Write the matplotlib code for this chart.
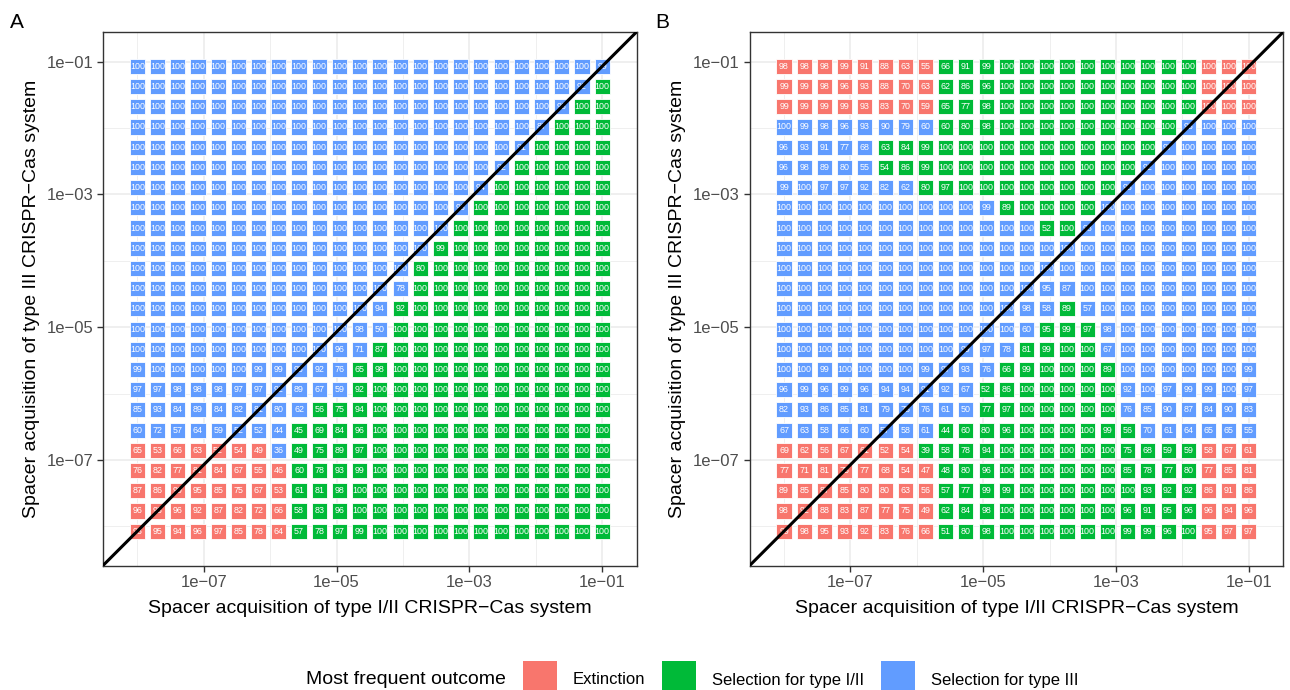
import matplotlib
matplotlib.use("Agg")
import matplotlib.pyplot as plt
from matplotlib.patches import Rectangle
from matplotlib.ticker import FixedLocator, NullFormatter

plt.rcParams['font.family'] = ['Liberation Sans', 'DejaVu Sans']

# spacer acquisition rates (log10) of type I/II (x) and type III (y)
X_RATE_EXPONENTS = [-8.000, -7.696, -7.391, -7.087, -6.783, -6.478, -6.174, -5.870,
                    -5.565, -5.261, -4.957, -4.652, -4.348, -4.043, -3.739, -3.435,
                    -3.130, -2.826, -2.522, -2.217, -1.913, -1.609, -1.304, -1.000]
# listed from top row to bottom row
Y_RATE_EXPONENTS = [-1.072, -1.376, -1.681, -1.985, -2.289, -2.594, -2.898, -3.202,
                    -3.507, -3.811, -4.115, -4.420, -4.724, -5.029, -5.333, -5.637,
                    -5.942, -6.246, -6.550, -6.855, -7.159, -7.463, -7.768, -8.072]

# outcome codes: E = extinction, G = selection for type I/II, B = selection for type III
OUTCOME_NAMES = {'E': 'Extinction', 'G': 'Selection for type I/II', 'B': 'Selection for type III'}
OUTCOME_COLORS = {'E': '#F8766D', 'G': '#00BA38', 'B': '#619CFF'}

A_VALUES = [
    [100, 100, 100, 100, 100, 100, 100, 100, 100, 100, 100, 100, 100, 100, 100, 100, 100, 100, 100, 100, 100, 100, 100, 99],
    [100, 100, 100, 100, 100, 100, 100, 100, 100, 100, 100, 100, 100, 100, 100, 100, 100, 100, 100, 100, 100, 100, 92, 100],
    [100, 100, 100, 100, 100, 100, 100, 100, 100, 100, 100, 100, 100, 100, 100, 100, 100, 100, 100, 100, 100, 93, 100, 100],
    [100, 100, 100, 100, 100, 100, 100, 100, 100, 100, 100, 100, 100, 100, 100, 100, 100, 100, 100, 100, 87, 100, 100, 100],
    [100, 100, 100, 100, 100, 100, 100, 100, 100, 100, 100, 100, 100, 100, 100, 100, 100, 100, 100, 91, 100, 100, 100, 100],
    [100, 100, 100, 100, 100, 100, 100, 100, 100, 100, 100, 100, 100, 100, 100, 100, 100, 100, 92, 100, 100, 100, 100, 100],
    [100, 100, 100, 100, 100, 100, 100, 100, 100, 100, 100, 100, 100, 100, 100, 100, 100, 94, 100, 100, 100, 100, 100, 100],
    [100, 100, 100, 100, 100, 100, 100, 100, 100, 100, 100, 100, 100, 100, 100, 100, 96, 100, 100, 100, 100, 100, 100, 100],
    [100, 100, 100, 100, 100, 100, 100, 100, 100, 100, 100, 100, 100, 100, 100, 100, 100, 100, 100, 100, 100, 100, 100, 100],
    [100, 100, 100, 100, 100, 100, 100, 100, 100, 100, 100, 100, 100, 100, 100, 99, 100, 100, 100, 100, 100, 100, 100, 100],
    [100, 100, 100, 100, 100, 100, 100, 100, 100, 100, 100, 100, 100, 100, 80, 100, 100, 100, 100, 100, 100, 100, 100, 100],
    [100, 100, 100, 100, 100, 100, 100, 100, 100, 100, 100, 100, 100, 78, 100, 100, 100, 100, 100, 100, 100, 100, 100, 100],
    [100, 100, 100, 100, 100, 100, 100, 100, 100, 100, 100, 100, 94, 92, 100, 100, 100, 100, 100, 100, 100, 100, 100, 100],
    [100, 100, 100, 100, 100, 100, 100, 100, 100, 100, 100, 98, 50, 100, 100, 100, 100, 100, 100, 100, 100, 100, 100, 100],
    [100, 100, 100, 100, 100, 100, 100, 100, 100, 100, 96, 71, 87, 100, 100, 100, 100, 100, 100, 100, 100, 100, 100, 100],
    [99, 100, 100, 100, 100, 100, 99, 99, 95, 92, 76, 65, 98, 100, 100, 100, 100, 100, 100, 100, 100, 100, 100, 100],
    [97, 97, 98, 98, 98, 97, 97, 92, 89, 67, 59, 92, 100, 100, 100, 100, 100, 100, 100, 100, 100, 100, 100, 100],
    [85, 93, 84, 89, 84, 82, 81, 80, 62, 56, 75, 94, 100, 100, 100, 100, 100, 100, 100, 100, 100, 100, 100, 100],
    [60, 72, 57, 64, 59, 52, 52, 44, 45, 69, 84, 96, 100, 100, 100, 100, 100, 100, 100, 100, 100, 100, 100, 100],
    [65, 53, 66, 63, 52, 54, 49, 36, 49, 75, 89, 97, 100, 100, 100, 100, 100, 100, 100, 100, 100, 100, 100, 100],
    [76, 82, 77, 81, 84, 67, 55, 46, 60, 78, 93, 99, 100, 100, 100, 100, 100, 100, 100, 100, 100, 100, 100, 100],
    [87, 86, 90, 95, 85, 75, 67, 53, 61, 81, 98, 100, 100, 100, 100, 100, 100, 100, 100, 100, 100, 100, 100, 100],
    [96, 93, 96, 92, 87, 82, 72, 66, 58, 83, 96, 100, 100, 100, 100, 100, 100, 100, 100, 100, 100, 100, 100, 100],
    [93, 95, 94, 96, 97, 85, 78, 64, 57, 78, 97, 99, 100, 100, 100, 100, 100, 100, 100, 100, 100, 100, 100, 100],
]
A_OUTCOMES = [
    "BBBBBBBBBBBBBBBBBBBBBBBB",
    "BBBBBBBBBBBBBBBBBBBBBBBG",
    "BBBBBBBBBBBBBBBBBBBBBBGG",
    "BBBBBBBBBBBBBBBBBBBBBGGG",
    "BBBBBBBBBBBBBBBBBBBBGGGG",
    "BBBBBBBBBBBBBBBBBBBGGGGG",
    "BBBBBBBBBBBBBBBBBBGGGGGG",
    "BBBBBBBBBBBBBBBBBGGGGGGG",
    "BBBBBBBBBBBBBBBBGGGGGGGG",
    "BBBBBBBBBBBBBBBGGGGGGGGG",
    "BBBBBBBBBBBBBBGGGGGGGGGG",
    "BBBBBBBBBBBBBBGGGGGGGGGG",
    "BBBBBBBBBBBBBGGGGGGGGGGG",
    "BBBBBBBBBBBBBGGGGGGGGGGG",
    "BBBBBBBBBBBBGGGGGGGGGGGG",
    "BBBBBBBBBBBGGGGGGGGGGGGG",
    "BBBBBBBBBBBGGGGGGGGGGGGG",
    "BBBBBBBBBGGGGGGGGGGGGGGG",
    "BBBBBBBBGGGGGGGGGGGGGGGG",
    "EEEEEEEBGGGGGGGGGGGGGGGG",
    "EEEEEEEEGGGGGGGGGGGGGGGG",
    "EEEEEEEEGGGGGGGGGGGGGGGG",
    "EEEEEEEEGGGGGGGGGGGGGGGG",
    "EEEEEEEEGGGGGGGGGGGGGGGG",
]

B_VALUES = [
    [98, 98, 98, 99, 91, 88, 63, 55, 66, 91, 99, 100, 100, 100, 100, 100, 100, 100, 100, 100, 100, 100, 100, 100],
    [99, 99, 98, 96, 93, 88, 70, 63, 62, 86, 96, 100, 100, 100, 100, 100, 100, 100, 100, 100, 100, 100, 100, 100],
    [99, 99, 99, 99, 93, 83, 70, 59, 65, 77, 98, 100, 100, 100, 100, 100, 100, 100, 100, 100, 100, 100, 100, 100],
    [100, 99, 98, 96, 93, 90, 79, 60, 60, 80, 98, 100, 100, 100, 100, 100, 100, 100, 100, 100, 98, 100, 100, 100],
    [96, 93, 91, 77, 68, 63, 84, 99, 100, 100, 100, 100, 100, 100, 100, 100, 100, 100, 100, 97, 100, 100, 100, 100],
    [96, 98, 89, 80, 55, 54, 86, 99, 100, 100, 100, 100, 100, 100, 100, 100, 100, 100, 92, 100, 100, 100, 100, 100],
    [99, 100, 97, 97, 92, 82, 62, 80, 97, 100, 100, 100, 100, 100, 100, 100, 100, 98, 100, 100, 100, 100, 100, 100],
    [100, 100, 100, 100, 100, 100, 100, 100, 100, 100, 99, 89, 100, 100, 100, 100, 100, 100, 100, 100, 100, 100, 100, 100],
    [100, 100, 100, 100, 100, 100, 100, 100, 100, 100, 100, 100, 100, 52, 100, 98, 100, 100, 100, 100, 100, 100, 100, 100],
    [100, 100, 100, 100, 100, 100, 100, 100, 100, 100, 100, 100, 100, 100, 100, 100, 100, 100, 100, 100, 100, 100, 100, 100],
    [100, 100, 100, 100, 100, 100, 100, 100, 100, 100, 100, 100, 100, 100, 100, 100, 100, 100, 100, 100, 100, 100, 100, 100],
    [100, 100, 100, 100, 100, 100, 100, 100, 100, 100, 100, 100, 100, 95, 87, 100, 100, 100, 100, 100, 100, 100, 100, 100],
    [100, 100, 100, 100, 100, 100, 100, 100, 100, 100, 100, 100, 98, 58, 89, 57, 100, 100, 100, 100, 100, 100, 100, 100],
    [100, 100, 100, 100, 100, 100, 100, 100, 100, 100, 100, 100, 60, 95, 99, 97, 98, 100, 100, 100, 100, 100, 100, 100],
    [100, 100, 100, 100, 100, 100, 100, 100, 100, 99, 97, 78, 81, 99, 100, 100, 67, 100, 100, 100, 100, 100, 100, 100],
    [100, 100, 99, 100, 100, 100, 100, 99, 97, 93, 76, 66, 99, 100, 100, 100, 89, 100, 100, 100, 100, 100, 100, 99],
    [96, 99, 96, 99, 96, 94, 94, 91, 92, 67, 52, 86, 100, 100, 100, 100, 100, 92, 100, 97, 99, 99, 100, 97],
    [82, 93, 86, 85, 81, 79, 78, 76, 61, 50, 77, 97, 100, 100, 100, 100, 100, 76, 85, 90, 87, 84, 90, 83],
    [67, 63, 58, 66, 60, 57, 58, 61, 44, 60, 80, 96, 100, 100, 100, 100, 99, 56, 70, 61, 64, 65, 65, 55],
    [69, 62, 56, 67, 61, 52, 54, 39, 58, 78, 94, 100, 100, 100, 100, 100, 100, 75, 68, 59, 59, 58, 67, 61],
    [77, 71, 81, 75, 77, 68, 54, 47, 48, 80, 96, 100, 100, 100, 100, 100, 100, 85, 78, 77, 80, 77, 85, 81],
    [89, 85, 87, 85, 80, 80, 63, 56, 57, 77, 99, 99, 100, 100, 100, 100, 100, 100, 93, 92, 92, 86, 91, 86],
    [98, 92, 88, 83, 87, 77, 75, 49, 62, 84, 98, 100, 100, 100, 100, 100, 100, 96, 91, 95, 96, 96, 94, 96],
    [99, 98, 95, 93, 92, 83, 76, 66, 51, 80, 98, 100, 100, 100, 100, 100, 100, 99, 99, 96, 100, 95, 97, 97],
]
B_OUTCOMES = [
    "EEEEEEEEGGGGGGGGGGGGGEEE",
    "EEEEEEEEGGGGGGGGGGGGGEEE",
    "EEEEEEEEGGGGGGGGGGGGGEEE",
    "BBBBBBBBGGGGGGGGGGGGBBBB",
    "BBBBBGGGGGGGGGGGGGGBBBBB",
    "BBBBBGGGGGGGGGGGGGBBBBBB",
    "BBBBBBBGGGGGGGGGGBBBBBBB",
    "BBBBBBBBBBBGGGGGBBBBBBBB",
    "BBBBBBBBBBBBBGGBBBBBBBBB",
    "BBBBBBBBBBBBBBBBBBBBBBBB",
    "BBBBBBBBBBBBBBBBBBBBBBBB",
    "BBBBBBBBBBBBBBBBBBBBBBBB",
    "BBBBBBBBBBBBBBGBBBBBBBBB",
    "BBBBBBBBBBBBBGGGBBBBBBBB",
    "BBBBBBBBBBBBGGGGBBBBBBBB",
    "BBBBBBBBBBBGGGGGGBBBBBBB",
    "BBBBBBBBBBGGGGGGGBBBBBBB",
    "BBBBBBBBBBGGGGGGGBBBBBBB",
    "BBBBBBBBGGGGGGGGGGBBBBBB",
    "EEEEEEEGGGGGGGGGGGGGGEEE",
    "EEEEEEEEGGGGGGGGGGGGGEEE",
    "EEEEEEEEGGGGGGGGGGGGGEEE",
    "EEEEEEEEGGGGGGGGGGGGGEEE",
    "EEEEEEEEGGGGGGGGGGGGGEEE",
]

MAJOR_TICKS = [1e-7, 1e-5, 1e-3, 1e-1]
MINOR_TICKS = [1e-8, 1e-6, 1e-4, 1e-2]
TICK_LABELS = ["1e\u221207", "1e\u221205", "1e\u221203", "1e\u221201"]
XLABEL = "Spacer acquisition of type I/II CRISPR\u2212Cas system"
YLABEL = "Spacer acquisition of type III CRISPR\u2212Cas system"

XLIM = (10 ** -8.517, 10 ** -0.483)
YLIM = (10 ** -8.589, 10 ** -0.555)


def draw_panel(ax, values, outcomes):
    xrates = [10 ** e for e in X_RATE_EXPONENTS]
    yrates = [10 ** e for e in Y_RATE_EXPONENTS]
    xs, ys, cols = [], [], []
    for r, y in enumerate(yrates):
        for c, x in enumerate(xrates):
            xs.append(x)
            ys.append(y)
            cols.append(OUTCOME_COLORS[outcomes[r][c]])
    ax.scatter(xs, ys, s=118, marker='s', c=cols, edgecolors='white',
               linewidths=0.6, zorder=3)
    for r, y in enumerate(yrates):
        for c, x in enumerate(xrates):
            ax.text(x, y, str(values[r][c]), ha='center', va='center',
                    color='white', fontsize=6.4, zorder=4)

    # diagonal reference line, corner to corner of the panel
    ax.plot(XLIM, YLIM, color='black', lw=2.2, zorder=5)

    ax.set_xscale('log')
    ax.set_yscale('log')
    ax.set_xlim(XLIM)
    ax.set_ylim(YLIM)
    for axis in (ax.xaxis, ax.yaxis):
        axis.set_major_locator(FixedLocator(MAJOR_TICKS))
        axis.set_minor_locator(FixedLocator(MINOR_TICKS))
        axis.set_minor_formatter(NullFormatter())
    ax.set_xticklabels(TICK_LABELS)
    ax.set_yticklabels(TICK_LABELS)
    ax.grid(which='major', color='#EBEBEB', lw=1.1, zorder=0)
    ax.grid(which='minor', color='#EBEBEB', lw=0.55, zorder=0)
    ax.set_axisbelow(True)
    ax.tick_params(which='minor', length=0)
    ax.tick_params(which='major', length=4, width=1, color='#333333',
                   labelsize=12, labelcolor='#4D4D4D', pad=3)
    for sp in ax.spines.values():
        sp.set_color('#333333')
        sp.set_linewidth(1.0)
    ax.set_xlabel(XLABEL, fontsize=14, labelpad=7)
    ax.set_ylabel(YLABEL, fontsize=14, labelpad=5)


fig = plt.figure(figsize=(12.9, 6.9), dpi=100)
W, H = 1290, 690
ax_a = fig.add_axes([103 / W, (H - 565.5) / H, 533.5 / W, 533.5 / H])
ax_b = fig.add_axes([749.7 / W, (H - 565.5) / H, 533.5 / W, 533.5 / H])
draw_panel(ax_a, A_VALUES, A_OUTCOMES)
draw_panel(ax_b, B_VALUES, B_OUTCOMES)

fig.text(17 / W, 1 - 23 / H, "A", fontsize=15, ha='center', va='center')
fig.text(662 / W, 1 - 23 / H, "B", fontsize=15, ha='center', va='center')

# legend along the bottom edge (keys run off the figure, as in the original)
fig.text(306 / W, 1 - 680 / H, "Most frequent outcome", fontsize=14, ha='left', va='center')
key_x = [523, 662, 881]
for code, kx in zip(['E', 'G', 'B'], key_x):
    fig.add_artist(Rectangle((kx / W, 1 - 695 / H), 34 / W, 34 / H,
                             transform=fig.transFigure, facecolor=OUTCOME_COLORS[code],
                             edgecolor='none'))
    fig.text((kx + 50) / W, 1 - 680 / H, OUTCOME_NAMES[code], fontsize=12,
             ha='left', va='center')

fig.savefig("out.png", dpi=100)
